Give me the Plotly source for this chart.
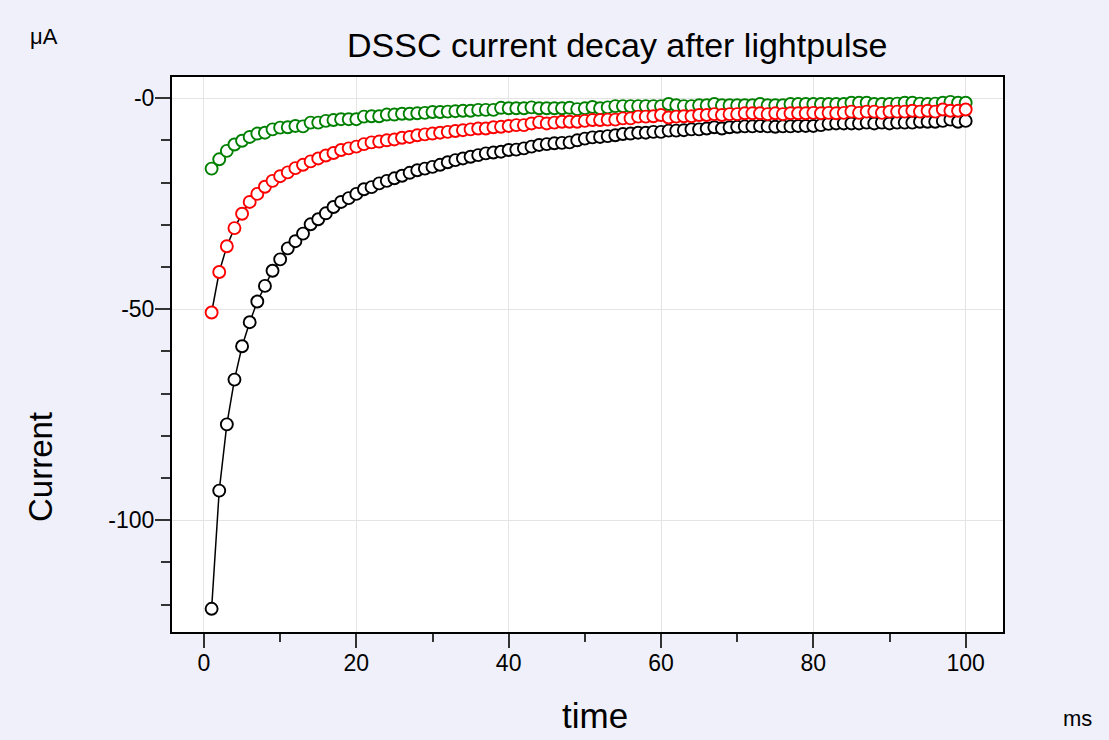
import plotly.graph_objects as go

time_ms = list(range(1, 101))

current_black = [
    -121.0, -93.0, -77.3, -66.7, -58.8, -53.1, -48.2, -44.5, -40.9, -38.2,
    -35.6, -33.9, -32.1, -29.9, -28.7, -27.3, -25.8, -24.6, -23.7, -22.7,
    -21.6, -21.1, -20.2, -19.6, -19.0, -18.4, -17.7, -17.1, -16.7, -16.3,
    -15.8, -15.2, -14.7, -14.3, -13.9, -13.5, -13.1, -12.9, -12.7, -12.3,
    -12.2, -11.9, -11.5, -11.1, -10.9, -10.7, -10.6, -10.5, -10.0, -9.6,
    -9.3, -9.2, -9.0, -8.8, -8.5, -8.4, -8.2, -8.2, -8.0, -8.0,
    -7.7, -7.7, -7.6, -7.4, -7.4, -7.2, -6.9, -7.2, -6.9, -6.8,
    -6.7, -6.7, -6.6, -6.7, -6.8, -6.7, -6.7, -6.6, -6.6, -6.6,
    -6.4, -6.1, -6.0, -6.0, -6.0, -6.0, -5.8, -6.0, -5.8, -6.0,
    -5.8, -5.8, -5.8, -5.6, -5.6, -5.6, -5.4, -5.1, -5.6, -5.4,
]

current_red = [
    -50.8, -41.2, -35.1, -30.8, -27.4, -24.6, -22.7, -21.0, -19.6, -18.5,
    -17.6, -16.6, -15.8, -15.0, -14.3, -13.6, -13.0, -12.3, -11.9, -11.5,
    -10.9, -10.5, -10.3, -10.0, -9.8, -9.4, -9.2, -8.8, -8.6, -8.4,
    -8.2, -8.0, -7.8, -7.6, -7.4, -7.2, -7.2, -6.9, -6.8, -6.6,
    -6.4, -6.4, -6.0, -5.7, -6.0, -5.8, -5.6, -5.6, -5.6, -5.4,
    -5.2, -5.2, -5.1, -5.1, -4.8, -4.8, -4.4, -4.4, -4.3, -4.0,
    -4.6, -4.4, -4.3, -4.3, -4.0, -4.0, -3.8, -4.0, -3.8, -3.8,
    -3.6, -3.6, -3.6, -3.8, -3.6, -3.8, -3.6, -3.6, -3.6, -3.5,
    -3.6, -3.5, -3.6, -3.5, -3.2, -3.5, -3.2, -3.2, -3.5, -3.2,
    -3.2, -3.2, -3.0, -3.2, -3.0, -3.2, -2.7, -3.0, -3.0, -2.7,
]

current_green = [
    -16.7, -14.5, -12.5, -11.0, -10.1, -9.2, -8.4, -8.2, -7.4, -7.0,
    -6.9, -6.6, -6.7, -5.8, -5.8, -5.4, -5.2, -5.0, -5.0, -5.0,
    -4.4, -4.3, -4.3, -3.9, -3.9, -3.7, -3.7, -3.6, -3.5, -3.3,
    -3.3, -3.2, -3.1, -3.0, -3.0, -2.8, -2.8, -2.8, -2.3, -2.4,
    -2.4, -2.4, -2.2, -2.4, -2.4, -2.4, -2.4, -2.3, -2.6, -2.4,
    -2.1, -2.4, -2.2, -1.9, -1.9, -1.9, -1.9, -1.9, -1.9, -1.9,
    -1.4, -1.7, -1.9, -1.9, -1.7, -1.7, -1.4, -1.7, -1.7, -1.7,
    -1.7, -1.7, -1.4, -1.7, -1.7, -1.7, -1.4, -1.4, -1.4, -1.4,
    -1.4, -1.4, -1.4, -1.4, -1.1, -1.1, -1.1, -1.4, -1.4, -1.4,
    -1.3, -1.1, -1.1, -1.3, -1.4, -1.3, -1.1, -0.9, -1.1, -1.1,
]

y_tickvals = [0, -50, -100]
y_ticktext = ["-0", "-50", "-100"]
y_minorvals = [0, -10, -20, -30, -40, -50, -60, -70, -80, -90, -100, -110, -120]
x_tickvals = [0, 20, 40, 60, 80, 100]
x_minorvals = [0, 10, 20, 30, 40, 50, 60, 70, 80, 90, 100]

FONT = "Liberation Sans, Arial, sans-serif"
W, H = 1109, 740
ML, MR, MT, MB = 172, 106, 77, 108

fig = go.Figure()
for vals, col in [(current_black, "black"), (current_green, "green"), (current_red, "red")]:
    fig.add_trace(go.Scatter(
        x=time_ms, y=vals, mode="lines+markers",
        line=dict(color="black", width=1.5),
        marker=dict(symbol="circle", size=12, color="white",
                    line=dict(color=col, width=1.9)),
        showlegend=False,
    ))

fig.update_layout(
    width=W, height=H,
    paper_bgcolor="#F0F0FA",
    plot_bgcolor="white",
    margin=dict(l=ML, r=MR, t=MT, b=MB, pad=0),
    font=dict(family=FONT, color="black"),
    showlegend=False,
)

fig.update_xaxes(
    range=[-4.2, 104.9],
    tickmode="array", tickvals=x_tickvals,
    ticks="outside", ticklen=14, tickwidth=1.5, tickcolor="#333",
    tickfont=dict(size=23, family=FONT),
    ticklabelstandoff=-5,
    showgrid=True, gridcolor="#E4E4E4", gridwidth=1,
    zeroline=False,
    showline=True, linecolor="black", linewidth=2, mirror=True,
    minor=dict(tickmode="array", tickvals=x_minorvals, ticks="outside",
               ticklen=8, tickwidth=1.5, tickcolor="#333", showgrid=False),
)
fig.update_yaxes(
    range=[-126.5, 5],
    tickmode="array", tickvals=y_tickvals, ticktext=y_ticktext,
    ticks="outside", ticklen=15, tickwidth=1.5, tickcolor="#333",
    tickfont=dict(size=23, family=FONT),
    ticklabelstandoff=-4,
    showgrid=True, gridcolor="#E4E4E4", gridwidth=1,
    zeroline=False,
    showline=True, linecolor="black", linewidth=2, mirror=True,
    minor=dict(tickmode="array", tickvals=y_minorvals, ticks="outside",
               ticklen=9, tickwidth=1.5, tickcolor="#333", showgrid=False),
)

plot_w, plot_h = W - ML - MR, H - MT - MB


def px_to_paper(px, py):
    return (px - ML) / plot_w, 1 - (py - MT) / plot_h


annotations = [
    ("DSSC current decay after lightpulse", 617, 45, 34, 0),
    ("μA", 44, 36, 22, 0),
    ("ms", 1077, 718, 22, 0),
    ("time", 595, 715, 35, 0),
    ("Current", 40, 467, 33, -90),
]
for text, px, py, size, ang in annotations:
    xp, yp = px_to_paper(px, py)
    fig.add_annotation(text=text, xref="paper", yref="paper", x=xp, y=yp,
                       xanchor="center", yanchor="middle", showarrow=False,
                       textangle=ang,
                       font=dict(size=size, family=FONT, color="black"))

fig.write_html("out.html",
               config={"displayModeBar": False},
               post_script="document.body.style.margin='0';document.body.style.overflow='hidden';")
